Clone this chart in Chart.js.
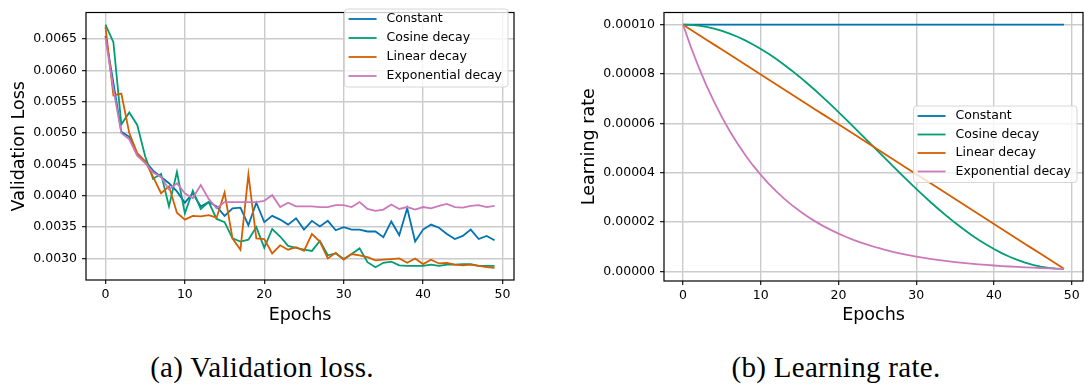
<!DOCTYPE html>
<html>
<head>
<meta charset="utf-8">
<script src="https://cdn.jsdelivr.net/npm/chart.js@4.4.1/dist/chart.umd.min.js"></script>
<style>
  html, body { margin: 0; padding: 0; background: #fff; }
  body { width: 1085px; height: 390px; position: relative; overflow: hidden; }
  canvas { position: absolute; top: 0; }
  #lossChart { left: 0; }
  #lrChart { left: 570px; }
  .caption {
    position: absolute; top: 351px; line-height: 32px;
    font-family: "Liberation Serif", serif; font-size: 29px; color: #000;
    letter-spacing: 0.3px; white-space: nowrap; transform: translateX(-50%);
  }
</style>
</head>
<body>
<canvas id="lossChart" width="530" height="335"></canvas>
<canvas id="lrChart" width="515" height="335"></canvas>
<div class="caption" style="left:262px">(a) Validation loss.</div>
<div class="caption" style="left:836px">(b) Learning rate.</div>

<script>
// data
const epochs = [0,1,2,3,4,5,6,7,8,9,10,11,12,13,14,15,16,17,18,19,20,21,22,23,24,
  25,26,27,28,29,30,31,32,33,34,35,36,37,38,39,40,41,42,43,44,45,46,47,48,49];

const seriesNames = ["Constant", "Cosine decay", "Linear decay", "Exponential decay"];
const seriesColors = ["#0173b2", "#029e73", "#d55e00", "#cc78bc"];

const epochTicks = [0, 10, 20, 30, 40, 50];
const lossTicks = [0.0030, 0.0035, 0.0040, 0.0045, 0.0050, 0.0055, 0.0060, 0.0065];
const lrTicks = [0, 0.00002, 0.00004, 0.00006, 0.00008, 0.00010];

// validation loss
const lossConstant = [0.00655,0.0058,0.00502,0.00494,0.00465,0.00455,0.0044,0.0043,0.0042,0.00407,
  0.00389,0.00404,0.00383,0.0039,0.00383,0.00368,0.0038,0.00381,0.00353,0.00389,
  0.00358,0.00368,0.00362,0.00354,0.00364,0.00346,0.0036,0.00351,0.0036,0.00345,
  0.0035,0.00346,0.00346,0.00343,0.00343,0.00334,0.00359,0.00337,0.0038,0.00327,
  0.00346,0.00354,0.00349,0.00339,0.00331,0.00336,0.00346,0.00331,0.00336,0.00329];
const lossCosine = [0.00673,0.00645,0.00514,0.00533,0.00513,0.00463,0.00427,0.00435,0.00383,0.00438,
  0.00372,0.00408,0.00379,0.0039,0.00363,0.00358,0.00332,0.00327,0.0033,0.0035,
  0.00317,0.00347,0.00335,0.0032,0.00317,0.00314,0.00312,0.00328,0.00305,0.00308,
  0.00299,0.00307,0.00316,0.00294,0.00286,0.00293,0.00295,0.00289,0.00288,0.00288,
  0.00288,0.0029,0.00288,0.0029,0.0029,0.00291,0.00291,0.00288,0.00288,0.00288];
const lossLinear = [0.0067,0.0056,0.00563,0.005,0.00468,0.00455,0.0043,0.00404,0.00415,0.00373,
  0.00362,0.00368,0.00367,0.00369,0.00365,0.00405,0.00332,0.00314,0.00434,0.00332,
  0.00331,0.00308,0.00321,0.00314,0.00318,0.00312,0.00339,0.00327,0.003,0.00309,
  0.00298,0.00307,0.00305,0.00302,0.00297,0.00298,0.00299,0.003,0.00293,0.003,
  0.00291,0.00298,0.00292,0.00293,0.0029,0.00289,0.0029,0.00288,0.00286,0.00285];
const lossExponential = [0.00652,0.0057,0.005,0.0049,0.00464,0.00452,0.00437,0.0043,0.0041,0.0042,
  0.00404,0.00396,0.00417,0.00395,0.0038,0.0039,0.0039,0.0039,0.0039,0.0039,
  0.00392,0.00401,0.00382,0.00389,0.00383,0.00383,0.00383,0.00382,0.00382,0.00385,
  0.00385,0.00382,0.0039,0.00379,0.00376,0.00378,0.00386,0.00379,0.00382,0.00378,
  0.00382,0.0038,0.00384,0.00387,0.00382,0.00381,0.00384,0.00385,0.00382,0.00384];

// learning rate
const lrConstant = [1e-4,1e-4,1e-4,1e-4,1e-4,1e-4,1e-4,1e-4,1e-4,1e-4,
  1e-4,1e-4,1e-4,1e-4,1e-4,1e-4,1e-4,1e-4,1e-4,1e-4,
  1e-4,1e-4,1e-4,1e-4,1e-4,1e-4,1e-4,1e-4,1e-4,1e-4,
  1e-4,1e-4,1e-4,1e-4,1e-4,1e-4,1e-4,1e-4,1e-4,1e-4,
  1e-4,1e-4,1e-4,1e-4,1e-4,1e-4,1e-4,1e-4,1e-4,1e-4];
const lrCosine = [100e-6,99.90e-6,99.59e-6,99.09e-6,98.38e-6,97.48e-6,96.38e-6,95.10e-6,93.63e-6,91.99e-6,
  90.17e-6,88.19e-6,86.06e-6,83.78e-6,81.36e-6,78.82e-6,76.16e-6,73.40e-6,70.54e-6,67.60e-6,
  64.58e-6,61.51e-6,58.40e-6,55.25e-6,52.09e-6,48.91e-6,45.75e-6,42.60e-6,39.49e-6,36.42e-6,
  33.40e-6,30.46e-6,27.60e-6,24.84e-6,22.18e-6,19.64e-6,17.22e-6,14.94e-6,12.81e-6,10.83e-6,
  9.02e-6,7.37e-6,5.90e-6,4.62e-6,3.52e-6,2.62e-6,1.91e-6,1.41e-6,1.10e-6,1.00e-6];
const lrLinear = [100e-6,97.98e-6,95.96e-6,93.94e-6,91.92e-6,89.90e-6,87.88e-6,85.86e-6,83.84e-6,81.82e-6,
  79.80e-6,77.78e-6,75.76e-6,73.73e-6,71.71e-6,69.69e-6,67.67e-6,65.65e-6,63.63e-6,61.61e-6,
  59.59e-6,57.57e-6,55.55e-6,53.53e-6,51.51e-6,49.49e-6,47.47e-6,45.45e-6,43.43e-6,41.41e-6,
  39.39e-6,37.37e-6,35.35e-6,33.33e-6,31.31e-6,29.29e-6,27.27e-6,25.25e-6,23.22e-6,21.20e-6,
  19.18e-6,17.16e-6,15.14e-6,13.12e-6,11.10e-6,9.08e-6,7.06e-6,5.04e-6,3.02e-6,1.00e-6];
const lrExponential = [100e-6,91.03e-6,82.86e-6,75.43e-6,68.66e-6,62.50e-6,56.90e-6,51.79e-6,47.15e-6,42.92e-6,
  39.07e-6,35.56e-6,32.37e-6,29.47e-6,26.83e-6,24.42e-6,22.23e-6,20.24e-6,18.42e-6,16.77e-6,
  15.26e-6,13.90e-6,12.65e-6,11.51e-6,10.48e-6,9.54e-6,8.69e-6,7.91e-6,7.20e-6,6.55e-6,
  5.96e-6,5.43e-6,4.94e-6,4.50e-6,4.10e-6,3.73e-6,3.39e-6,3.09e-6,2.81e-6,2.56e-6,
  2.33e-6,2.12e-6,1.93e-6,1.76e-6,1.60e-6,1.46e-6,1.33e-6,1.21e-6,1.10e-6,1.00e-6];

const FONT = '"DejaVu Sans", sans-serif';

// black frame round the plot area, like matplotlib spines
const spines = {
    id: 'spines',
    afterDatasetsDraw(chart) {
        const a = chart.chartArea;
        const ctx = chart.ctx;
        ctx.save();
        ctx.strokeStyle = '#000';
        ctx.lineWidth = 1.2;
        ctx.strokeRect(a.left, a.top, a.right - a.left, a.bottom - a.top);
        ctx.restore();
    }
};

// legend box drawn inside the plot area
const boxLegend = {
    id: 'boxLegend',
    afterDraw(chart, args, o) {
        const ctx = chart.ctx;
        const a = chart.chartArea;
        const items = chart.data.datasets;
        ctx.save();
        ctx.font = '12.5px ' + FONT;
        const textW = Math.max(...items.map(d => ctx.measureText(d.label).width));
        const w = 42 + textW + 6;
        const h = 21 + (items.length - 1) * o.step;
        const x = a.right - 6 - w;
        const y = o.top;

        ctx.beginPath();
        ctx.roundRect(x, y, w, h, 3);
        ctx.fillStyle = 'rgba(255,255,255,0.8)';
        ctx.fill();
        ctx.strokeStyle = '#d6d6d6';
        ctx.lineWidth = 1;
        ctx.stroke();

        items.forEach((d, i) => {
            const cy = y + 10 + i * o.step;
            ctx.beginPath();
            ctx.moveTo(x + 4, cy);
            ctx.lineTo(x + 32, cy);
            ctx.strokeStyle = d.borderColor;
            ctx.lineWidth = 1.8;
            ctx.stroke();
            ctx.fillStyle = '#000';
            ctx.textBaseline = 'middle';
            ctx.fillText(d.label, x + 42, cy);
        });
        ctx.restore();
    }
};

function makeChart(id, series, cfg) {
    const datasets = series.map((values, i) => ({
        label: seriesNames[i],
        data: epochs.map((e, k) => ({ x: e, y: values[k] })),
        borderColor: seriesColors[i],
        borderWidth: 1.8,
        pointRadius: 0,
        tension: 0,
        fill: false,
        order: series.length - i
    }));

    const grid = {
        color: '#cbcbcb',
        lineWidth: 1.4,
        tickColor: '#000',
        tickWidth: 1.1,
        tickLength: 4
    };

    return new Chart(document.getElementById(id), {
        type: 'line',
        data: { datasets: datasets },
        options: {
            responsive: false,
            animation: false,
            devicePixelRatio: 1,
            layout: { padding: { top: cfg.top, right: cfg.right, left: 0, bottom: 0 } },
            plugins: {
                legend: { display: false },
                tooltip: { enabled: false },
                boxLegend: { top: cfg.legendTop, step: cfg.legendStep }
            },
            scales: {
                x: {
                    type: 'linear',
                    min: -2.45,
                    max: 51.45,
                    grid: grid,
                    border: { display: false },
                    afterBuildTicks: axis => { axis.ticks = epochTicks.map(v => ({ value: v })); },
                    afterFit: axis => { axis.height = cfg.xAxisHeight; },
                    ticks: {
                        padding: 3,
                        color: '#000',
                        font: { family: FONT, size: 12.5 },
                        maxRotation: 0,
                        callback: v => String(v)
                    },
                    title: {
                        display: true,
                        text: 'Epochs',
                        color: '#000',
                        font: { family: FONT, size: 17.5 },
                        padding: { top: 0, bottom: 9.5 }
                    }
                },
                y: {
                    type: 'linear',
                    min: cfg.yMin,
                    max: cfg.yMax,
                    grid: grid,
                    border: { display: false },
                    afterBuildTicks: axis => { axis.ticks = cfg.yTicks.map(v => ({ value: v })); },
                    afterFit: axis => { axis.width = cfg.yAxisWidth; },
                    ticks: {
                        padding: 5,
                        color: '#000',
                        font: { family: FONT, size: 12.5 },
                        callback: v => Number(v).toFixed(cfg.decimals)
                    },
                    title: {
                        display: true,
                        text: cfg.yTitle,
                        color: '#000',
                        font: { family: FONT, size: 17.5 },
                        padding: { top: 8.5, bottom: 0 }
                    }
                }
            }
        },
        plugins: [spines, boxLegend]
    });
}

makeChart('lossChart', [lossConstant, lossCosine, lossLinear, lossExponential], {
    yTitle: 'Validation Loss',
    yMin: 0.002656, yMax: 0.006924,
    yTicks: lossTicks, decimals: 4,
    top: 3, right: 16, yAxisWidth: 86, xAxisHeight: 55,
    legendTop: 9, legendStep: 19
});

makeChart('lrChart', [lrConstant, lrCosine, lrLinear, lrExponential], {
    yTitle: 'Learning rate',
    yMin: -0.00000395, yMax: 0.00010495,
    yTicks: lrTicks, decimals: 5,
    top: 7, right: 2, yAxisWidth: 94, xAxisHeight: 54,
    legendTop: 106, legendStep: 18.5
});
</script>
</body>
</html>
